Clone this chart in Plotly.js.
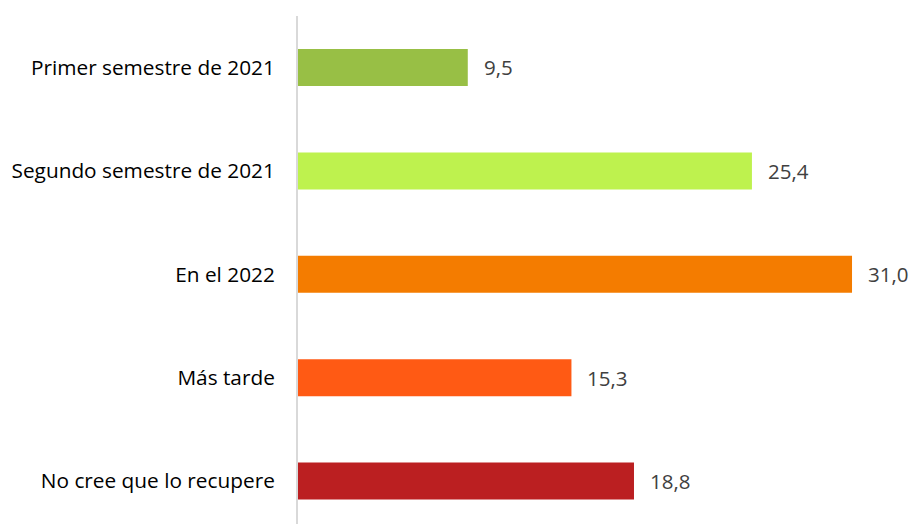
<!DOCTYPE html>
<html>
<head>
<meta charset="utf-8">
<script src="https://cdn.plot.ly/plotly-3.0.1.min.js"></script>
<style>html,body{margin:0;padding:0;background:#fff;}#chart{width:911px;height:524px;}</style>
</head>
<body>
<div id="chart"></div>
<script>
const categories = ["Primer semestre de 2021", "Segundo semestre de 2021", "En el 2022", "Más tarde", "No cree que lo recupere"];
const values = [9.5, 25.4, 31.0, 15.3, 18.8];
const colors = ["#98BF45", "#BEF24E", "#F47C00", "#FF5A14", "#BB1F21"];
const labels = values.map(v => v.toFixed(1).replace('.', ','));

const trace = {
  type: 'bar',
  orientation: 'h',
  x: values,
  y: categories,
  marker: {color: colors, line: {width: 0}},
  hoverinfo: 'none'
};

const annotations = values.map((v, i) => ({
  x: v, y: categories[i], xref: 'x', yref: 'y',
  text: labels[i], showarrow: false, xanchor: 'left', xshift: 14,
  font: {family: 'Open Sans, sans-serif', size: 20.5, color: '#404040'}
}));

const layout = {
  width: 911, height: 524,
  margin: {l: 298, r: 0, t: 16, b: 0},
  paper_bgcolor: '#fff', plot_bgcolor: '#fff',
  bargap: 0.642,
  showlegend: false,
  xaxis: {range: [0, 34.3], showgrid: false, zeroline: false, showticklabels: false, showline: false, fixedrange: true},
  yaxis: {
    type: 'category', autorange: false, range: [4.415, -0.498],
    showgrid: false, zeroline: false, showline: true, linecolor: '#d9d9d9', linewidth: 2,
    ticks: '', ticklabelstandoff: 17,
    tickfont: {family: 'Open Sans, sans-serif', size: 20.8, color: '#000'}
  },
  annotations: annotations
};

Plotly.newPlot('chart', [trace], layout, {displayModeBar: false, staticPlot: true});
</script>
</body>
</html>
